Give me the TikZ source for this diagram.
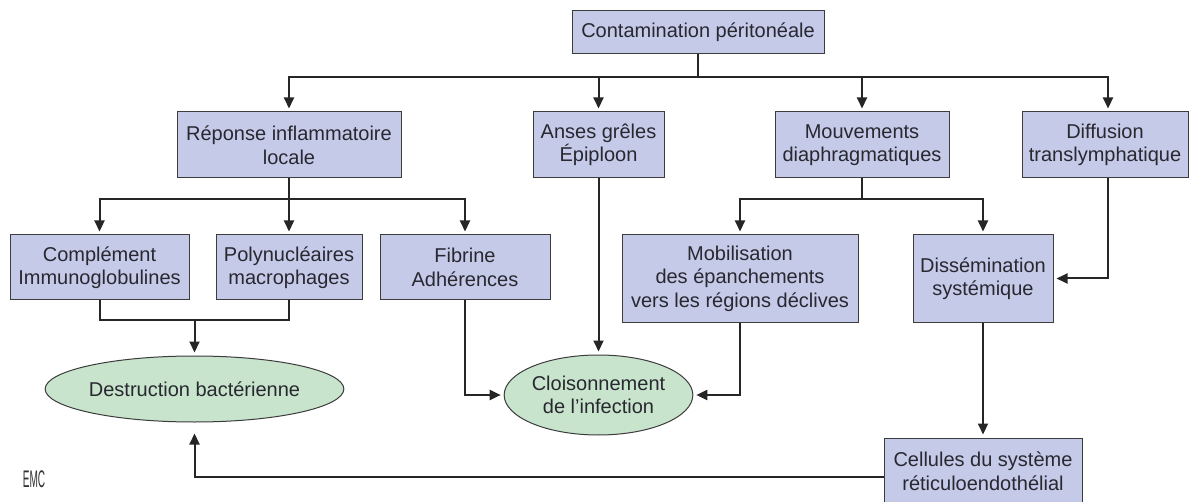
\documentclass[tikz,border=0pt]{standalone}
\usepackage{fontspec}
\setmainfont{Liberation Sans}
\usetikzlibrary{arrows.meta,shapes.geometric}
\definecolor{boxfill}{RGB}{197,202,233}
\definecolor{ellfill}{RGB}{200,228,204}
\definecolor{edge}{RGB}{60,60,60}
\definecolor{txt}{RGB}{40,40,48}
\begin{document}
\begin{tikzpicture}[x=1pt,y=-1pt,
  boxnode/.style={draw=edge, line width=1pt, fill=boxfill, inner sep=0pt, align=center,
    text=txt, font=\fontsize{20}{23.5}\selectfont},
  ellnode/.style={ellipse, draw=edge, line width=1pt, fill=ellfill, inner sep=0pt, align=center,
    text=txt, font=\fontsize{20}{23.5}\selectfont},
  conn/.style={draw=black!85, line width=2pt},
  arr/.style={conn, -{Triangle[length=11pt,width=10pt]}, shorten >=3pt}
]
\useasboundingbox (0,0) rectangle (1190,502);
\fill[white] (0,0) rectangle (1190,502);

% nodes
\node[boxnode, minimum width=252pt, minimum height=43pt] (cont) at (698,32.5) {Contamination péritonéale};
\node[boxnode, minimum width=224pt, minimum height=66pt] (rep) at (289,145) {Réponse inflammatoire\\locale};
\node[boxnode, minimum width=131pt, minimum height=66pt] (anses) at (598.5,145) {Anses grêles\\Épiploon};
\node[boxnode, minimum width=174pt, minimum height=66pt] (mouv) at (862,145) {Mouvements\\diaphragmatiques};
\node[boxnode, minimum width=166pt, minimum height=66pt] (diff) at (1105,145) {Diffusion\\translymphatique};
\node[boxnode, minimum width=179pt, minimum height=65pt] (compl) at (99.5,267.5) {Complément\\Immunoglobulines};
\node[boxnode, minimum width=146pt, minimum height=65pt] (poly) at (289,267.5) {Polynucléaires\\macrophages};
\node[boxnode, minimum width=170pt, minimum height=65pt] (fib) at (465,267.5) {Fibrine\\Adhérences};
\node[boxnode, minimum width=236pt, minimum height=87pt] (mob) at (740,278.5) {Mobilisation\\des épanchements\\vers les régions déclives};
\node[boxnode, minimum width=140pt, minimum height=87pt] (diss) at (983,278.5) {Dissémination\\systémique};
\node[boxnode, minimum width=198pt, minimum height=72pt] (cell) at (983,474) {\raisebox{5.5pt}{\begin{tabular}{@{}c@{}}Cellules du système\\réticuloendothélial\end{tabular}}};
\node[ellnode, minimum width=235pt, minimum height=66pt] (destr) at (194.5,389) {Destruction bactérienne};
\node[ellnode, minimum width=167pt, minimum height=80pt] (cloi) at (598.5,395) {Cloisonnement\\de l’infection};
\node[text=black!80, font=\fontsize{24}{24}\selectfont, xscale=0.42] (emc) at (34,479) {EMC};

% junctions
\coordinate (j1) at (698,77);
\coordinate (j2) at (289,199);
\coordinate (j3) at (862,199);
\coordinate (j4) at (194.5,320);

% connectors
\draw[conn] (cont.south) -- (j1);
\draw[arr] (j1) -| (rep.north);
\draw[arr] (j1) -| (anses.north);
\draw[arr] (j1) -| (mouv.north);
\draw[arr] (j1) -| ([xshift=3pt]diff.north);

\draw[conn] (rep.south) -- (j2);
\draw[arr] (j2) -| (compl.north);
\draw[arr] (j2) -- (poly.north);
\draw[arr] (j2) -| (fib.north);

\draw[conn] (mouv.south) -- (j3);
\draw[arr] (j3) -| (mob.north);
\draw[arr] (j3) -| (diss.north);

\draw[arr] ([xshift=3pt]diff.south) |- (diss.east);

\draw[conn] (compl.south) |- (j4);
\draw[conn] (poly.south) |- (j4);
\draw[arr] (j4) -- (destr.north);

\draw[arr] (anses.south) -- (cloi.north);
\draw[arr] (fib.south) |- (cloi.west);
\draw[arr] (mob.south) |- (cloi.east);

\draw[arr] (diss.south) -- (cell.north);
\draw[arr, shorten >=11pt] ([yshift=-3pt]cell.west) -| (destr.south);
\end{tikzpicture}
\end{document}
